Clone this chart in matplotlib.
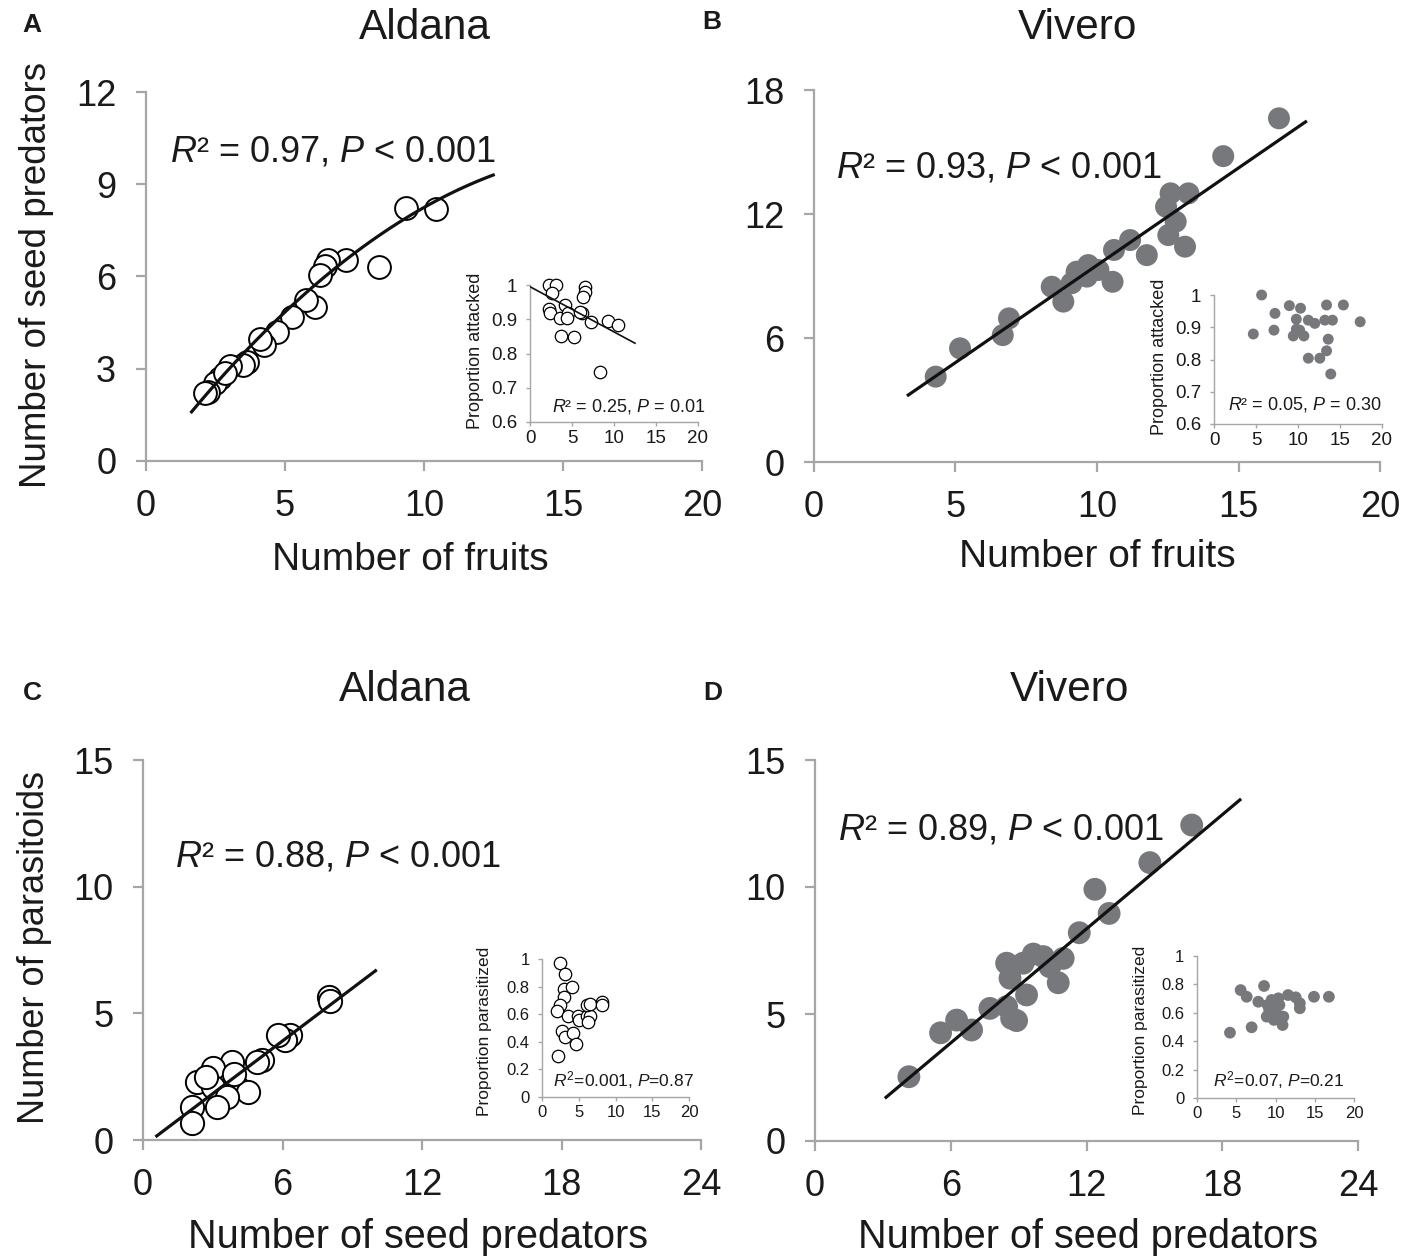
import numpy as np
import matplotlib
matplotlib.use("Agg")
import matplotlib.pyplot as plt

plt.rcParams['font.family'] = ['Liberation Sans', 'DejaVu Sans']
plt.rcParams['mathtext.fontset'] = 'custom'
plt.rcParams['mathtext.rm'] = 'Liberation Sans'
plt.rcParams['mathtext.it'] = 'Liberation Sans:italic'

# ---------------- data ----------------
# Panel A (Aldana): fruits vs seed predators
A_fruits = [9.37, 10.43, 8.39, 7.19, 6.56, 6.44, 6.26, 6.08, 5.74, 5.24, 4.70, 4.24,
            4.10, 3.64, 3.50, 3.02, 2.66, 2.48, 2.24, 2.12, 2.85]
A_pred = [8.22, 8.18, 6.32, 6.54, 6.54, 6.34, 6.05, 5.02, 5.24, 4.69, 4.20, 3.77,
          3.96, 3.23, 3.12, 3.09, 2.69, 2.53, 2.25, 2.20, 2.85]
A_fit_coef = [-0.265, 1.193, -0.0342]   # quadratic a + b x + c x^2
A_fit_range = [1.64, 12.49]
# Inset A: proportion attacked
Ai_fruits = [2.26, 3.10, 2.66, 2.30, 2.35, 4.17, 3.57, 4.56, 4.37, 3.69, 5.24, 6.15,
             6.55, 6.55, 6.35, 7.22, 9.33, 10.5, 8.33, 5.90]
Ai_prop = [1.0, 1.0, 0.976, 0.929, 0.918, 0.942, 0.903, 0.917, 0.903, 0.851, 0.847, 0.917,
           0.995, 0.980, 0.966, 0.893, 0.895, 0.883, 0.747, 0.920]
Ai_fit = [0.995, -0.0132]
Ai_fit_range = [0.0, 12.5]

# Panel B (Vivero): fruits vs seed predators
B_fruits = [16.43, 14.46, 12.60, 13.23, 12.44, 12.78, 12.52, 13.11, 11.17, 11.76, 10.60,
            10.55, 9.69, 9.64, 9.28, 9.10, 10.05, 8.40, 8.81, 6.89, 6.67, 5.16, 4.30]
B_pred = [16.63, 14.80, 13.00, 13.00, 12.35, 11.63, 10.98, 10.42, 10.74, 10.01, 10.26,
          8.72, 9.53, 8.97, 9.21, 8.65, 9.29, 8.48, 7.76, 6.95, 6.14, 5.50, 4.13]
B_fit = [0.104, 0.9416]
B_fit_range = [3.33, 17.37]
# Inset B
Bi_fruits = [5.67, 4.68, 7.26, 7.14, 8.97, 10.3, 9.8, 9.8, 9.44, 10.7, 10.2, 11.23, 12.0,
             11.23, 12.6, 13.4, 15.4, 13.2, 14.1, 13.6, 13.4, 13.9, 17.4]
Bi_prop = [1.0, 0.879, 0.943, 0.891, 0.967, 0.959, 0.925, 0.894, 0.873, 0.873, 0.891, 0.922,
           0.912, 0.804, 0.804, 0.969, 0.969, 0.922, 0.922, 0.863, 0.827, 0.755, 0.917]

# Panel C (Aldana): seed predators vs parasitoids
C_pred = [8.0, 8.05, 6.32, 6.11, 5.82, 5.10, 4.89, 3.81, 3.03, 2.31, 4.03, 4.53, 3.03,
          3.60, 3.17, 2.09, 2.09, 2.7, 3.9]
C_para = [5.66, 5.50, 4.15, 3.95, 4.15, 3.16, 3.09, 3.09, 2.83, 2.30, 2.10, 1.91, 2.10,
          1.71, 1.31, 1.31, 0.66, 2.5, 2.6]
C_fit = [-0.249, 0.693]
C_fit_range = [0.59, 10.0]
# Inset C
Ci_pred = [2.45, 3.17, 2.99, 4.04, 2.99, 2.45, 2.09, 3.58, 4.94, 5.0, 6.08, 6.5, 6.3,
           6.08, 6.53, 8.12, 8.12, 2.68, 3.13, 4.26, 4.63, 2.22]
Ci_prop = [0.973, 0.891, 0.78, 0.80, 0.722, 0.667, 0.623, 0.587, 0.587, 0.558, 0.587, 0.587,
           0.546, 0.667, 0.674, 0.69, 0.67, 0.48, 0.437, 0.466, 0.382, 0.297]

# Panel D (Vivero): seed predators vs parasitoids
D_pred = [16.65, 14.80, 12.37, 13.00, 11.68, 10.97, 10.75, 10.09, 9.65, 9.20, 10.38, 8.47,
          8.62, 9.35, 8.47, 8.91, 8.69, 7.73, 6.26, 6.92, 5.55, 4.15]
D_para = [12.44, 10.96, 9.91, 8.96, 8.20, 7.19, 6.23, 7.26, 7.36, 7.00, 6.86, 7.00,
          6.41, 5.75, 5.29, 4.74, 4.83, 5.22, 4.76, 4.37, 4.26, 2.53]
D_fit = [-0.631, 0.7487]
D_fit_range = [3.14, 18.78]
# Inset D
Di_pred = [4.2, 5.56, 6.33, 6.96, 7.81, 8.54, 8.88, 9.5, 9.72, 9.8, 9.9, 10.36, 10.4, 10.9,
           11.0, 10.5, 11.6, 12.57, 13.1, 13.1, 14.9, 16.8, 9.0, 9.2]
Di_prop = [0.46, 0.76, 0.713, 0.498, 0.678, 0.789, 0.573, 0.69, 0.62, 0.55, 0.655, 0.702,
           0.58, 0.514, 0.573, 0.655, 0.725, 0.709, 0.667, 0.632, 0.713, 0.713, 0.655, 0.62]

# ---------------- layout ----------------
W, H = 1413, 1257
fig = plt.figure(figsize=(W / 100, H / 100), dpi=100)

def add_ax(x0, x1, yt, yb):
    return fig.add_axes([x0 / W, 1 - yb / H, (x1 - x0) / W, (yb - yt) / H])

SPINE = '#a6a6a6'
GRAY = '#77787b'
TC = '#1a1a1a'

def style(ax, big=True, tsize=26):
    for s in ['top', 'right']:
        ax.spines[s].set_visible(False)
    for s in ['left', 'bottom']:
        ax.spines[s].set_color(SPINE)
        ax.spines[s].set_linewidth(1.6 if big else 1.0)
    if big:
        ax.tick_params(axis='both', direction='out', length=7.5, width=1.6, color=SPINE,
                       labelsize=tsize, labelcolor=TC)
        ax.tick_params(axis='y', pad=14)
        ax.tick_params(axis='x', pad=13)
    else:
        ax.tick_params(axis='both', direction='out', length=3, width=1.0, color=SPINE,
                       labelsize=tsize, labelcolor=TC)
        ax.tick_params(axis='y', pad=6)
        ax.tick_params(axis='x', pad=3)
    ax.set_facecolor('none')

def txt(x, y, s, size, **kw):
    fig.text(x / W, 1 - y / H, s, fontsize=size, color=TC, **kw)

open_kw = dict(facecolor='white', edgecolor='black', linewidths=1.4, zorder=3, clip_on=False)
fill_kw = dict(facecolor=GRAY, edgecolor='none', zorder=3, clip_on=False)
iopen_kw = dict(facecolor='white', edgecolor='black', linewidths=0.9, zorder=3, clip_on=False)

# ---- Panel A ----
axA = add_ax(146, 702, 92, 461)
axA.scatter(A_fruits, A_pred, s=270, **open_kw)
xx = np.linspace(A_fit_range[0], A_fit_range[1], 100)
axA.plot(xx, A_fit_coef[0] + A_fit_coef[1] * xx + A_fit_coef[2] * xx ** 2,
         color='#111111', lw=2.3, zorder=4)
axA.set_xlim(0, 20); axA.set_ylim(0, 12)
axA.set_xticks([0, 5, 10, 15, 20]); axA.set_yticks([0, 3, 6, 9, 12])
style(axA)

axAi = add_ax(530, 698, 285, 422)
axAi.scatter(Ai_fruits, Ai_prop, s=80, **iopen_kw)
xi = np.array(Ai_fit_range)
axAi.plot(xi, Ai_fit[0] + Ai_fit[1] * xi, color='#111111', lw=1.2, zorder=4)
axAi.set_xlim(0, 20); axAi.set_ylim(0.6, 1.0)
axAi.set_xticks([0, 5, 10, 15, 20]); axAi.set_yticks([0.6, 0.7, 0.8, 0.9, 1.0])
axAi.set_yticklabels(['0.6', '0.7', '0.8', '0.9', '1'])
style(axAi, big=False, tsize=13.5)

# ---- Panel B ----
axB = add_ax(814, 1380, 90, 462)
axB.scatter(B_fruits, B_pred, s=250, **fill_kw)
xx = np.array(B_fit_range)
axB.plot(xx, B_fit[0] + B_fit[1] * xx, color='#111111', lw=2.3, zorder=4)
axB.set_xlim(0, 20); axB.set_ylim(0, 18)
axB.set_xticks([0, 5, 10, 15, 20]); axB.set_yticks([0, 6, 12, 18])
style(axB)

axBi = add_ax(1214, 1382, 295, 424)
axBi.scatter(Bi_fruits, Bi_prop, s=62, **fill_kw)
axBi.set_xlim(0, 20); axBi.set_ylim(0.6, 1.0)
axBi.set_xticks([0, 5, 10, 15, 20]); axBi.set_yticks([0.6, 0.7, 0.8, 0.9, 1.0])
axBi.set_yticklabels(['0.6', '0.7', '0.8', '0.9', '1'])
style(axBi, big=False, tsize=13.5)

# ---- Panel C ----
axC = add_ax(143, 701, 760, 1140)
axC.scatter(C_pred, C_para, s=280, **open_kw)
xx = np.array(C_fit_range)
axC.plot(xx, C_fit[0] + C_fit[1] * xx, color='#111111', lw=2.3, zorder=4)
axC.set_xlim(0, 24); axC.set_ylim(0, 15)
axC.set_xticks([0, 6, 12, 18, 24]); axC.set_yticks([0, 5, 10, 15])
style(axC)

axCi = add_ax(542, 689, 959, 1097)
axCi.scatter(Ci_pred, Ci_prop, s=80, **iopen_kw)
axCi.set_xlim(0, 20); axCi.set_ylim(0, 1.0)
axCi.set_xticks([0, 5, 10, 15, 20]); axCi.set_yticks([0, 0.2, 0.4, 0.6, 0.8, 1.0])
axCi.set_yticklabels(['0', '0.2', '0.4', '0.6', '0.8', '1'])
style(axCi, big=False, tsize=12)

# ---- Panel D ----
axD = add_ax(815, 1358, 760, 1141)
axD.scatter(D_pred, D_para, s=270, **fill_kw)
xx = np.array(D_fit_range)
axD.plot(xx, D_fit[0] + D_fit[1] * xx, color='#111111', lw=2.3, zorder=4)
axD.set_xlim(0, 24); axD.set_ylim(0, 15)
axD.set_xticks([0, 6, 12, 18, 24]); axD.set_yticks([0, 5, 10, 15])
style(axD)

axDi = add_ax(1197, 1354, 956, 1098)
axDi.scatter(Di_pred, Di_prop, s=72, **fill_kw)
axDi.set_xlim(0, 20); axDi.set_ylim(0, 1.0)
axDi.set_xticks([0, 5, 10, 15, 20]); axDi.set_yticks([0, 0.2, 0.4, 0.6, 0.8, 1.0])
axDi.set_yticklabels(['0', '0.2', '0.4', '0.6', '0.8', '1'])
style(axDi, big=False, tsize=12)

# ---------------- texts ----------------
# panel letters
for (x, y, s) in [(32, 25, 'A'), (712, 22, 'B'), (32, 693, 'C'), (713, 693, 'D')]:
    txt(x, y, s, 19, fontweight='bold', ha='center', va='center')
# titles
for (x, y, s) in [(425, 28, 'Aldana'), (1078, 28, 'Vivero'), (405, 690, 'Aldana'), (1070, 690, 'Vivero')]:
    txt(x, y, s, 30.5, ha='center', va='center')
# axis labels
txt(410, 560, 'Number of fruits', 28, ha='center', va='center')
txt(1097, 557, 'Number of fruits', 28, ha='center', va='center')
txt(418, 1237, 'Number of seed predators', 28.5, ha='center', va='center')
txt(1088, 1237, 'Number of seed predators', 28.5, ha='center', va='center')
txt(37, 275, 'Number of seed predators', 26.5, ha='center', va='center', rotation=90)
txt(35, 947, 'Number of parasitoids', 26, ha='center', va='center', rotation=90)
# main stats
txt(170, 152, r'$\mathit{R}$² = 0.97, $\mathit{P}$ < 0.001', 26, ha='left', va='center')
txt(836, 168, r'$\mathit{R}$² = 0.93, $\mathit{P}$ < 0.001', 26, ha='left', va='center')
txt(175, 857, r'$\mathit{R}$² = 0.88, $\mathit{P}$ < 0.001', 26, ha='left', va='center')
txt(838, 830, r'$\mathit{R}$² = 0.89, $\mathit{P}$ < 0.001', 26, ha='left', va='center')
# inset stats
txt(552, 407, r'$\mathit{R}$² = 0.25, $\mathit{P}$ = 0.01', 13, ha='left', va='center')
txt(1228, 405, r'$\mathit{R}$² = 0.05, $\mathit{P}$ = 0.30', 13, ha='left', va='center')
txt(553, 1080, r'$\mathit{R}^{\mathrm{2}}$=0.001, $\mathit{P}$=0.87', 12.5, ha='left', va='center')
txt(1213, 1080, r'$\mathit{R}^{\mathrm{2}}$=0.07, $\mathit{P}$=0.21', 12.5, ha='left', va='center')
# inset y labels
txt(475, 351, 'Proportion attacked', 13, ha='center', va='center', rotation=90)
txt(1160, 357, 'Proportion attacked', 13, ha='center', va='center', rotation=90)
txt(484, 1031, 'Proportion parasitized', 12.5, ha='center', va='center', rotation=90)
txt(1140, 1030, 'Proportion parasitized', 12.5, ha='center', va='center', rotation=90)

fig.savefig('out.png', dpi=100, facecolor='white')
